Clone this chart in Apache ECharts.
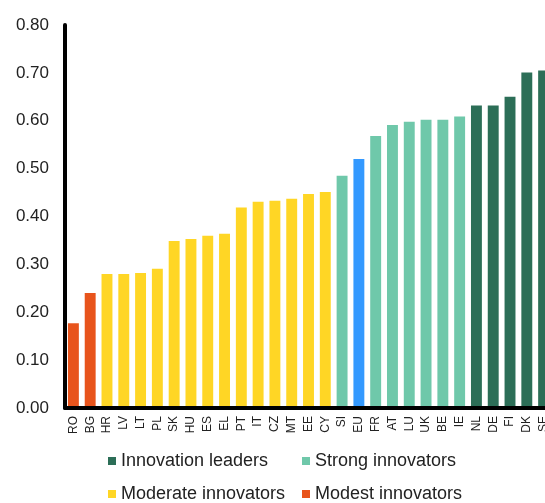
<!DOCTYPE html>
<html>
<head>
<meta charset="utf-8">
<script src="https://cdn.jsdelivr.net/npm/echarts@6/dist/echarts.min.js"></script>
<style>
html,body{margin:0;padding:0;overflow:hidden;background:#fff;}
#c{width:553px;height:503px;}
</style>
</head>
<body>
<div id="c"></div>
<script>
var categories = ['RO','BG','HR','LV','LT','PL','SK','HU','ES','EL','PT','IT','CZ','MT','EE','CY','SI','EU','FR','AT','LU','UK','BE','IE','NL','DE','FI','DK','SE'];
var scores = [0.177,0.240,0.280,0.280,0.282,0.291,0.349,0.353,0.360,0.364,0.419,0.431,0.433,0.437,0.447,0.451,0.485,0.520,0.568,0.591,0.598,0.602,0.602,0.609,0.632,0.632,0.650,0.701,0.705];
var groups = ['modest','modest','moderate','moderate','moderate','moderate','moderate','moderate','moderate','moderate','moderate','moderate','moderate','moderate','moderate','moderate','strong','eu','strong','strong','strong','strong','strong','strong','leader','leader','leader','leader','leader'];
var yTicks = [0,0.1,0.2,0.3,0.4,0.5,0.6,0.7,0.8];

var groupNames = {leader:'Innovation leaders', strong:'Strong innovators', moderate:'Moderate innovators', modest:'Modest innovators', eu:'EU'};
var groupColors = {leader:'#2c6e57', strong:'#6fc8aa', moderate:'#ffd625', modest:'#e8541c', eu:'#3399ff'};

function seriesFor(g){
  return {
    name: groupNames[g], type:'bar', stack:'all', z:2,
    barCategoryGap:'35%',
    itemStyle:{color:groupColors[g]},
    data: scores.map(function(v,i){ return groups[i]===g ? v : '-'; })
  };
}

var legendText = {fontSize:18, color:'#222', fontFamily:'Liberation Sans, Arial, sans-serif'};
function leg(name,left,top){
  return {data:[name], left:left, top:top, icon:'rect', itemWidth:8, itemHeight:8, itemGap:5, padding:0,
          textStyle:legendText, selectedMode:false};
}

var chart = echarts.init(document.getElementById('c'), null, {renderer:'canvas'});
chart.setOption({
  animation:false,
  grid:{left:65, right:1, top:25, bottom:95, containLabel:false},
  xAxis:{type:'category', data:categories, z:10,
    axisLine:{lineStyle:{color:'#000', width:4}},
    axisTick:{show:false},
    axisLabel:{rotate:90, fontSize:12, color:'#222', margin:8, interval:0, fontFamily:'Liberation Sans, Arial, sans-serif'}
  },
  yAxis:{type:'value', min:yTicks[0], max:yTicks[yTicks.length-1], interval:0.1, z:10,
    axisLine:{show:true, lineStyle:{color:'#000', width:4}},
    axisTick:{show:false}, splitLine:{show:false},
    axisLabel:{fontSize:17, color:'#222', margin:16, fontFamily:'Liberation Sans, Arial, sans-serif',
      formatter:function(v){return v.toFixed(2);}}
  },
  legend:[
    leg('Innovation leaders',108,452),
    leg('Strong innovators',302,452),
    leg('Moderate innovators',108,485),
    leg('Modest innovators',302,485)
  ],
  series:['modest','moderate','strong','eu','leader'].map(seriesFor)
});
</script>
</body>
</html>
